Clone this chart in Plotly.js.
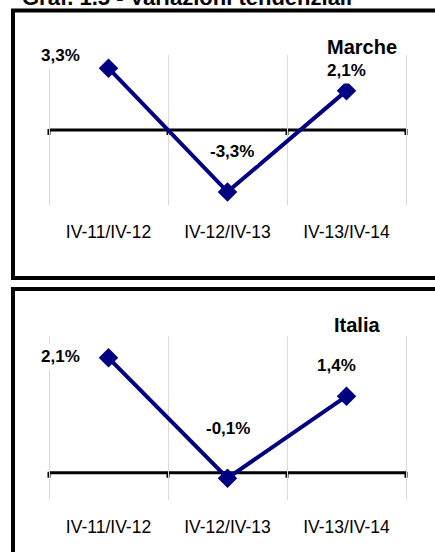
<!DOCTYPE html>
<html>
<head>
<meta charset="utf-8">
<script src="https://cdn.plot.ly/plotly-3.0.1.min.js"></script>
<style>html,body{margin:0;padding:0;background:#fff;}#chart{width:435px;height:552px;}</style>
</head>
<body>
<div id="chart"></div>
<script>
// ---- data ----
const categories = ["IV-11/IV-12", "IV-12/IV-13", "IV-13/IV-14"];
const marche = [3.3, -3.3, 2.1];
const italia = [2.1, -0.1, 1.4];
const seriesNames = ["Marche", "Italia"];
const chartTitle = "Graf. 1.5 - Variazioni tendenziali";

// ---- styling ----
const W = 435, H = 552;
const px = v => v / W;
const py = v => 1 - v / H;
const navy = "#000080";
const font = "Liberation Sans, Arial, sans-serif";
const fmt = v => v.toFixed(1).replace(".", ",") + "%";

function lineTrace(vals, xa, ya) {
  return {
    x: categories, y: vals, xaxis: xa, yaxis: ya,
    type: "scatter", mode: "lines+markers",
    line: {color: navy, width: 4},
    marker: {symbol: "diamond", size: 15, color: navy},
    cliponaxis: false, hoverinfo: "skip", showlegend: false
  };
}

function xAxis(domain, anchor) {
  return {
    domain: domain, anchor: anchor, type: "category",
    range: [-0.53, 2.53], tickson: "boundaries",
    showgrid: true, gridcolor: "#d9d9d9", gridwidth: 1,
    showline: false, zeroline: false, ticks: "",
    ticklabelstandoff: 14,
    tickfont: {family: font, size: 17.5, color: "#000"}
  };
}
function yAxis(domain, anchor, range) {
  return {
    domain: domain, anchor: anchor, range: range,
    showgrid: false, showticklabels: false, ticks: "",
    zeroline: false, showline: false
  };
}

const annotations = [];
const labelOffsets1 = [[-48, 13], [4, 40], [0, 20]];
const labelOffsets2 = [[-48, 1], [0, 50], [-10, 31]];
function addLabels(vals, xa, ya, offs) {
  vals.forEach((v, i) => {
    annotations.push({
      x: categories[i], y: v, xref: xa, yref: ya, text: fmt(v), showarrow: false,
      xshift: offs[i][0], yshift: offs[i][1],
      font: {family: font, size: 17, color: "#000", weight: "bold"},
      bgcolor: "#fff", borderpad: 3
    });
  });
}
addLabels(marche, "x", "y", labelOffsets1);
addLabels(italia, "x2", "y2", labelOffsets2);

annotations.push({
  xref: "paper", yref: "y domain", x: px(361.5), y: 1.053, text: seriesNames[0],
  showarrow: false, xanchor: "center", yanchor: "middle",
  font: {family: font, size: 20, color: "#000", weight: "bold"}
});
annotations.push({
  xref: "paper", yref: "y2 domain", x: px(357), y: 1.067, text: seriesNames[1],
  showarrow: false, xanchor: "center", yanchor: "middle",
  font: {family: font, size: 20, color: "#000", weight: "bold"}
});
annotations.push({
  xref: "paper", yref: "paper", x: px(20), y: py(12), text: chartTitle,
  showarrow: false, xanchor: "left", yanchor: "bottom",
  font: {family: font, size: 22, color: "#000", weight: "bold"}
});

const shapes = [
  {type: "rect", xref: "paper", yref: "paper", x0: px(13), x1: px(445), y0: py(278), y1: py(10.5),
   line: {color: "#000", width: 4}, fillcolor: "rgba(0,0,0,0)", layer: "below"},
  {type: "rect", xref: "paper", yref: "paper", x0: px(13), x1: px(445), y0: py(565), y1: py(289),
   line: {color: "#000", width: 4}, fillcolor: "rgba(0,0,0,0)", layer: "below"}
];
[["x", "y"], ["x2", "y2"]].forEach(([xa, ya]) => {
  // horizontal category axis crossing at zero
  shapes.push({type: "line", xref: xa, yref: ya, x0: -0.5, x1: 2.5, y0: 0, y1: 0,
    line: {color: "#000", width: 3}, layer: "below"});
  [-0.5, 0.5, 1.5, 2.5].forEach(b => {
    shapes.push({type: "line", xref: xa, yref: ya, x0: b, x1: b,
      ysizemode: "pixel", yanchor: 0, y0: 1, y1: -5,
      line: {color: "#000", width: 3}, layer: "below"});
  });
});

// x domain: boundaries -0.5..2.5 at 49..406 px (119 px per category)
const xd = [px(49 - 0.03 * 119), px(406 + 0.03 * 119)];

const layout = {
  width: W, height: H,
  margin: {l: 0, r: 0, t: 0, b: 0},
  paper_bgcolor: "#fff", plot_bgcolor: "rgba(0,0,0,0)",
  font: {family: font, color: "#000"},
  showlegend: false,
  xaxis: xAxis(xd, "y"),
  yaxis: yAxis([py(205), py(55)], "x", [-4, 4]),
  xaxis2: xAxis(xd, "y2"),
  yaxis2: yAxis([py(500), py(336)], "x2", [-0.5, 2.5]),
  annotations: annotations,
  shapes: shapes
};

Plotly.newPlot("chart", [lineTrace(marche, "x", "y"), lineTrace(italia, "x2", "y2")], layout,
  {staticPlot: true, displayModeBar: false});
</script>
</body>
</html>
